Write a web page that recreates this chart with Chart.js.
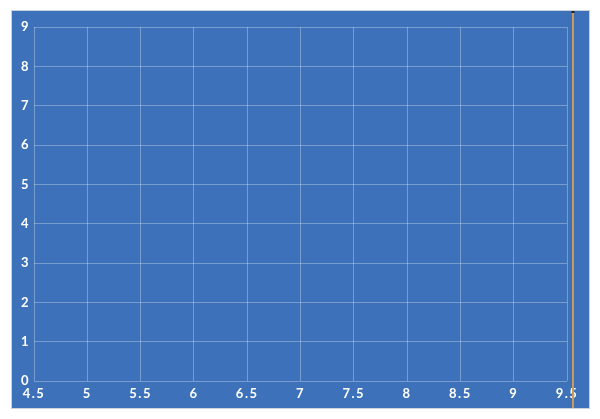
<!DOCTYPE html>
<html>
<head>
<meta charset="utf-8">
<script src="https://cdn.jsdelivr.net/npm/chart.js@4"></script>
<style>
    html, body { margin: 0; padding: 0; background: #ffffff; }
    #wrap {
        position: absolute; left: 11px; top: 10px; width: 577px; height: 397px;
        background: #3d71ba; border: 1px solid #c9d2dd;
    }
</style>
</head>
<body>
<div id="wrap"><canvas id="Chart"></canvas></div>
<script>
// axis ranges and the vertical marker
const xRange = [4.5, 9.5];
const yRange = [0, 9];
const xStep = 0.5;
const yStep = 1;
const markerX = [9.56];

const markerLine = {
    id: 'markerLine',
    beforeDraw(chart) {
        chart.ctx.letterSpacing = '1.5px';
    },
    afterDatasetsDraw(chart) {
        const ctx = chart.ctx;
        const xs = chart.scales.x;
        ctx.save();
        markerX.forEach(function (v) {
            const px = Math.round(xs.getPixelForValue(v));
            ctx.strokeStyle = '#cc9b58';
            ctx.lineWidth = 2;
            ctx.beginPath();
            ctx.moveTo(px, 0);
            ctx.lineTo(px, chart.height);
            ctx.stroke();
            ctx.fillStyle = '#222';
            ctx.fillRect(px - 1.5, 0, 3, 2);
        });
        ctx.restore();
    }
};

function plainNumber(value) {
    return String(Math.round(value * 10) / 10);
}

let chart = new Chart(document.getElementById('Chart'), {
    type: 'scatter',
    data: { datasets: [{ data: [] }] },
    options: {
        responsive: true,
        maintainAspectRatio: false,
        animation: false,
        layout: { padding: { top: 16, right: 22, left: 0, bottom: 0 } },
        plugins: { legend: { display: false }, tooltip: { enabled: false } },
        scales: {
            x: {
                type: 'linear',
                min: xRange[0], max: xRange[1],
                border: { display: false },
                grid: { color: 'rgba(255,255,255,0.3)', drawTicks: false },
                ticks: {
                    stepSize: xStep, color: '#ffffff', padding: 5,
                    font: { family: 'Lato', weight: 'bold', size: 13 },
                    callback: plainNumber
                },
                afterFit: function (s) { s.height = 27; }
            },
            y: {
                min: yRange[0], max: yRange[1],
                border: { display: false },
                grid: { color: 'rgba(255,255,255,0.3)', drawTicks: false },
                ticks: {
                    stepSize: yStep, color: '#ffffff', padding: 4,
                    font: { family: 'Lato', weight: 'bold', size: 13 },
                    callback: plainNumber
                },
                afterFit: function (s) { s.width = 22; }
            }
        }
    },
    plugins: [markerLine]
});
</script>
</body>
</html>
